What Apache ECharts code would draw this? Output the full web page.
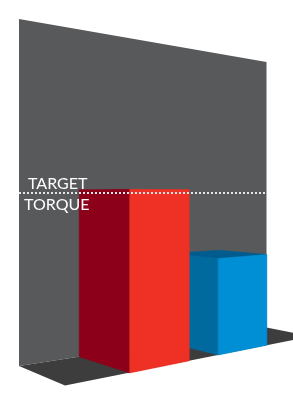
<!DOCTYPE html>
<html>
<head>
<meta charset="utf-8">
<title>Target torque</title>
<script src="https://cdn.jsdelivr.net/npm/echarts@6/dist/echarts.min.js"></script>
<style>
  html, body { margin: 0; padding: 0; background: #fff; }
  #chart { width: 293px; height: 404px; }
</style>
</head>
<body>
<div id="chart"></div>
<script>
// data
const categories = ['Before', 'After'];
const torque = [102, 59.5];
const target = [100];
const targetLabel = ['TARGET', 'TORQUE'];

// perspective scene, styling only
const HORIZON = 192.5;
const VP_RIGHT = 1022; // vanishing point along the wall
const VP_LEFT = -430;  // vanishing point of the depth edges
const X_REF = 65;      // front corner of the floor, scale 1 there
const D_REF = VP_RIGHT - X_REF;
const WALL = [[19, 19], [266.5, 62], [266.5, 327.5], [19, 366]];
const FLOOR = [[19, 366], [266.5, 327.5], [311, 336.5], [65, 385.5]];
const BAR_RATIO = 0.65;
const BAR_COLORS = [
  { front: '#ee3124', side: '#8c0019', top: '#a8001e' },
  { front: '#008fd5', side: '#006a9f', top: '#005c8f' }
];

// flat x on the front plane -> screen x and height scale
function project(xf) {
  const s = D_REF / (D_REF + xf - X_REF);
  return { x: VP_RIGHT - D_REF * s, s: s };
}

// how far along p -> left vanishing point until the wall base
function toWall(p) {
  const a = WALL[3], b = WALL[2];
  const d1 = [VP_LEFT - p[0], HORIZON - p[1]];
  const d2 = [b[0] - a[0], b[1] - a[1]];
  const den = d1[0] * d2[1] - d1[1] * d2[0];
  return ((a[0] - p[0]) * d2[1] - (a[1] - p[1]) * d2[0]) / den;
}

function renderBar(params, api) {
  const i = params.dataIndex;
  const base = api.coord([api.value(0), 0]);
  const head = api.coord([api.value(0), api.value(1)]);
  const half = api.size([1, 0])[0] * BAR_RATIO / 2;
  const l = project(base[0] - half);
  const r = project(base[0] + half);
  const lift = function (y, s) { return HORIZON + (y - HORIZON) * s; };
  const flb = [l.x, lift(base[1], l.s)];
  const flt = [l.x, lift(head[1], l.s)];
  const frb = [r.x, lift(base[1], r.s)];
  const frt = [r.x, lift(head[1], r.s)];
  const back = function (p, t) {
    return [p[0] + t * (VP_LEFT - p[0]), p[1] + t * (HORIZON - p[1])];
  };
  const tl = toWall(flb);
  const tr = toWall(frb);
  const blb = back(flb, tl);
  const blt = back(flt, tl);
  const brt = back(frt, tr);
  const col = BAR_COLORS[i];
  const z = (torque.length - i) * 10;
  const face = function (pts, color, k) {
    return {
      type: 'polygon',
      z2: z + k,
      shape: { points: pts },
      style: { fill: color, stroke: color, lineWidth: 0.5 }
    };
  };
  const children = [];
  if (flt[1] > HORIZON) children.push(face([flt, frt, brt, blt], col.top, 0));
  children.push(face([flb, flt, blt, blb], col.side, 1));
  children.push(face([flb, frb, frt, flt], col.front, 2));
  return { type: 'group', children: children };
}

const chart = echarts.init(document.getElementById('chart'));
chart.setOption({
  animation: false,
  graphic: [
    { type: 'polygon', z: 0, shape: { points: WALL }, style: { fill: '#58595b' }, silent: true },
    { type: 'polygon', z: 0, shape: { points: FLOOR }, style: { fill: '#3d3d3d' }, silent: true }
  ],
  grid: [
    { left: 114.6, width: 226, top: 0, height: 386, outerBoundsMode: 'none' },
    { left: 19, width: 247.5, top: 0, height: 386, outerBoundsMode: 'none' }
  ],
  xAxis: [
    { type: 'category', gridIndex: 0, data: categories, show: false },
    { type: 'value', gridIndex: 1, min: 0, max: 1, show: false }
  ],
  yAxis: [
    { type: 'value', gridIndex: 0, min: 0, max: 200, show: false },
    { type: 'value', gridIndex: 1, min: 0, max: 200, show: false }
  ],
  series: [
    {
      type: 'custom',
      z: 2,
      renderItem: renderBar,
      data: torque.map(function (v, i) { return [categories[i], v]; })
    },
    {
      type: 'line',
      xAxisIndex: 1,
      yAxisIndex: 1,
      z: 5,
      data: [],
      markLine: {
        silent: true,
        symbol: 'none',
        lineStyle: { color: '#e6e6e6', width: 2, type: [2, 2] },
        label: { color: '#ffffff', fontFamily: 'Lato', fontSize: 16 },
        data: [
          { yAxis: target[0], label: { formatter: targetLabel[0], position: 'insideStartTop', distance: [9, 1] } },
          { yAxis: target[0], label: { formatter: targetLabel[1], position: 'insideStartBottom', distance: [5, 4] } }
        ]
      }
    }
  ]
});
</script>
</body>
</html>
